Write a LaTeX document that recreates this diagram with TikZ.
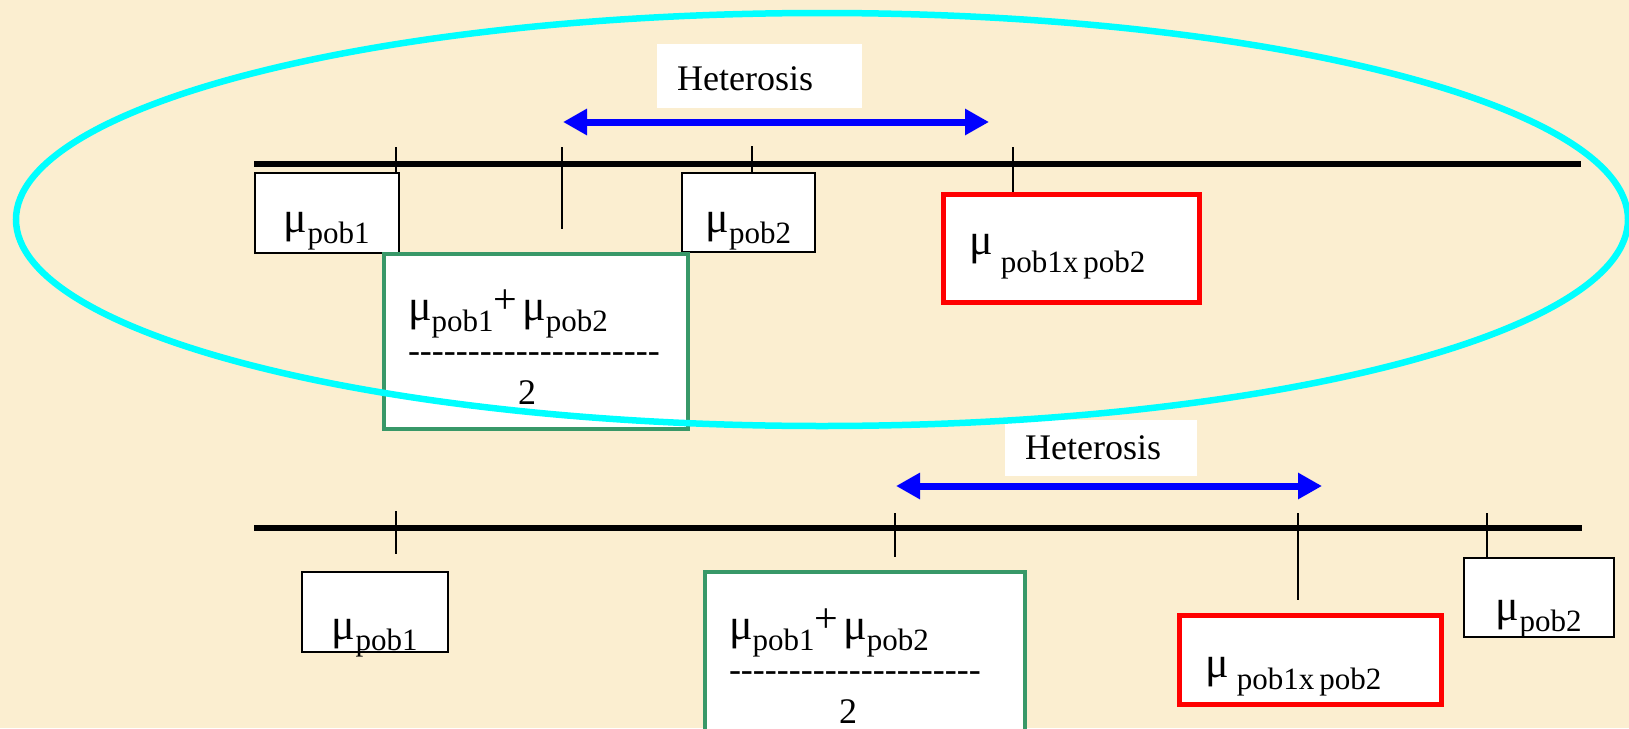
\documentclass[tikz,border=0pt]{standalone}
\usepackage{fontspec}
\setmainfont{Liberation Serif}
\usepackage{xcolor}
\usetikzlibrary{arrows.meta}

\definecolor{parchment}{RGB}{251,238,208}
\definecolor{sumgreen}{RGB}{56,152,104}
\definecolor{ringcyan}{RGB}{0,255,255}
\newcommand{\mun}{{\fontsize{44}{44}\selectfont μ}}
\newcommand{\sbs}[2][11pt]{\raisebox{-#1}{\fontsize{31}{31}\selectfont #2}}
\newcommand{\plussign}{\raisebox{7pt}{\fontsize{42}{42}\selectfont +}}
\newcommand{\dashrow}{\foreach \k in {1,...,21}{-}}

\tikzset{
	meanbox/.style = {draw, line width = 1.5pt, fill = white, inner sep = 0pt, anchor = north west},
	sumbox/.style = {draw = sumgreen, line width = 4pt, fill = white, inner xsep = 24pt, inner ysep = 0pt, align = left, anchor = north west},
	crossbox/.style = {draw = red, line width = 4.5pt, fill = white, inner xsep = 26pt, inner ysep = 0pt, align = left, anchor = north west},
	heterolabel/.style = {fill = white, inner xsep = 20pt, inner ysep = 0pt, align = left, anchor = north west},
	heteroarrow/.style = {blue, line width = 7pt, {Triangle[length=24pt, width=25pt]}-{Triangle[length=24pt, width=25pt]}},
	axisline/.style = {line width = 5.5pt},
	tickmark/.style = {line width = 1.5pt}
}

\begin{document}
\begin{tikzpicture}[x = 1pt, y = -1pt, font = \fontsize{36}{42}\selectfont]
		\def\frame{(0,0) rectangle (1629,728)};
		\def\ellipsering{(822,219.5) ellipse [x radius = 806pt, y radius = 206.5pt]};
		
		\clip \frame;
		\fill [parchment] \frame;
		
		\begin{scope}
			\coordinate (axisAleft) at (254,164);
			\coordinate (axisAright) at (1581,164);
			\coordinate (tickA1) at (396,147);
			\coordinate (tickA2) at (562,147);
			\coordinate (tickA3) at (752,146);
			\coordinate (tickA4) at (1013,147);
			\coordinate (heteroAleft) at (563,122);
			\coordinate (heteroAright) at (989,122);
			
			\node [heterolabel, text width = 165pt, text height = 46pt, text depth = 18pt] (heteroA) at (657,44) {Heterosis};
			\draw [heteroarrow] (heteroAleft) -- (heteroAright);
			
			\draw [axisline] (axisAleft) -- (axisAright);
			
			\node [meanbox, minimum width = 144pt, text height = 60pt, text depth = 20pt] (pobA) at (254,172) {\mun\sbs{pob1}};
			\node [meanbox, minimum width = 133pt, text height = 60pt, text depth = 19pt] (pobB) at (681,172) {\mun\sbs{pob2}};
			\node [crossbox, text width = 204pt, text height = 60pt, text depth = 48pt] (crossA) at (941,192) {\mun\hspace{8pt}\sbs[18pt]{pob1x\hspace{5pt}pob2}};
			\node [sumbox, text width = 256pt, text height = 66pt, text depth = 109pt] (sumA) at (382,252)
				{\mun\sbs{pob1}\plussign\hspace{5pt}\mun\sbs{pob2}\\ \dashrow\\ \hspace*{110pt}2};
			
			\draw [tickmark] (tickA1) -- (tickA1 |- pobA.north);
			\draw [tickmark] (tickA2) -- ++(0,82);
			\draw [tickmark] (tickA3) -- (tickA3 |- pobB.north);
			\draw [tickmark] (tickA4) -- (tickA4 |- crossA.north);
		\end{scope}
		
		\begin{scope}
			\coordinate (axisBleft) at (254,528);
			\coordinate (axisBright) at (1582,528);
			\coordinate (tickB1) at (396,511);
			\coordinate (tickB2) at (895,513);
			\coordinate (tickB3) at (1298,513);
			\coordinate (tickB4) at (1487,513);
			\coordinate (heteroBleft) at (896,486);
			\coordinate (heteroBright) at (1322,486);
			
			\node [heterolabel, text width = 152pt, text height = 39pt, text depth = 17pt] (heteroB) at (1005,420) {Heterosis};
			\draw [heteroarrow] (heteroBleft) -- (heteroBright);
			
			\draw [axisline] (axisBleft) -- (axisBright);
			
			\node [meanbox, minimum width = 146pt, text height = 68pt, text depth = 12pt] (pobC) at (301,571) {\mun\sbs{pob1}};
			\node [meanbox, minimum width = 150pt, text height = 63pt, text depth = 16pt] (pobD) at (1463,557) {\mun\sbs{pob2}};
			\node [crossbox, text width = 210pt, text height = 62pt, text depth = 27pt] (crossB) at (1177,613) {\mun\hspace{8pt}\sbs[12pt]{pob1x\hspace{5pt}pob2}};
			\node [sumbox, text width = 272pt, text height = 67pt, text depth = 108pt] (sumB) at (703,570)
				{\mun\sbs{pob1}\plussign\hspace{5pt}\mun\sbs{pob2}\\ \dashrow\\ \hspace*{110pt}2};
			
			\draw [tickmark] (tickB1) -- ++(0,43);
			\draw [tickmark] (tickB2) -- ++(0,44);
			\draw [tickmark] (tickB3) -- ++(0,87);
			\draw [tickmark] (tickB4) -- (tickB4 |- pobD.north);
		\end{scope}
		
		\begin{scope}
			\draw [ringcyan, line width = 6.5pt] \ellipsering;
		\end{scope}
	\end{tikzpicture}
\end{document}
